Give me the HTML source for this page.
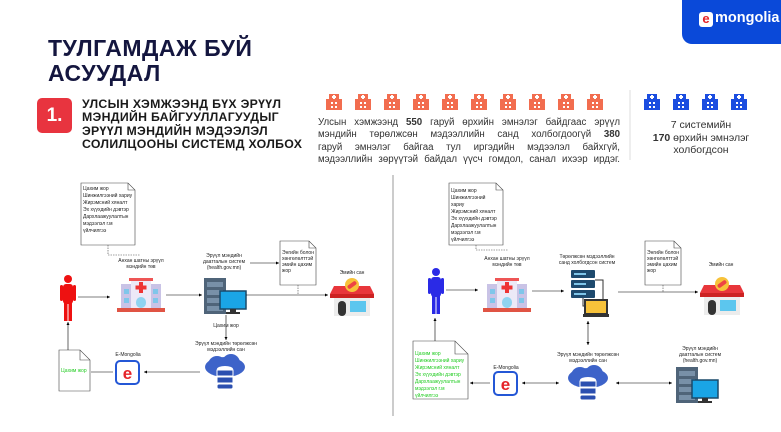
<!DOCTYPE html>
<html><head><meta charset="utf-8"><style>
*{margin:0;padding:0;box-sizing:border-box}
body{width:781px;height:432px;background:#fff;position:relative;overflow:hidden;font-family:"Liberation Sans",sans-serif}
.a{position:absolute}
.t{font-weight:bold;color:#14163f;font-size:23px;line-height:25px;letter-spacing:0.5px}
.h{font-weight:bold;color:#1a1a1a;font-size:12.3px;line-height:13.3px;letter-spacing:0.3px}
.p{font-size:9.7px;line-height:12.3px;color:#333}
.p div{text-align:justify;text-align-last:justify;white-space:nowrap}
svg text{font-family:"Liberation Sans",sans-serif;font-size:5px;fill:#222}
</style></head><body>
<div class="a" style="left:682px;top:0;width:99px;height:44px;background:#0a49d9;border-bottom-left-radius:10px"></div>
<div class="a" style="left:699px;top:12px;width:14px;height:15px;background:#fff;border-radius:3px;color:#e52329;font-weight:bold;font-size:13px;line-height:13px;text-align:center">e</div>
<div class="a" style="left:715px;top:10px;color:#fff;font-weight:bold;font-size:14.5px">mongolia</div>

<div class="a t" style="left:48px;top:36px">ТУЛГАМДАЖ БУЙ<br>АСУУДАЛ</div>
<div class="a" style="left:37px;top:98px;width:35px;height:35px;background:#e8343f;border-radius:5px;color:#fff;font-weight:bold;font-size:19px;line-height:35px;text-align:center">1.</div>
<div class="a h" style="left:82px;top:98px">УЛСЫН ХЭМЖЭЭНД БҮХ ЭРҮҮЛ<br>МЭНДИЙН БАЙГУУЛЛАГУУДЫГ<br>ЭРҮҮЛ МЭНДИЙН МЭДЭЭЛЭЛ<br>СОЛИЛЦООНЫ СИСТЕМД ХОЛБОХ</div>

<svg class="a" style="left:0;top:0" width="781" height="432">
<defs>
<g id="bld"><rect x="3" y="2" width="10" height="16"/><rect x="0" y="7" width="3" height="11"/><rect x="13" y="7" width="3" height="11"/><rect x="7" y="3" width="2" height="4" fill="#fff"/><rect x="6" y="4" width="4" height="2" fill="#fff"/><rect x="5" y="10" width="2" height="2" fill="#fff"/><rect x="9" y="10" width="2" height="2" fill="#fff"/><rect x="5" y="14" width="2" height="2" fill="#fff"/><rect x="9" y="14" width="2" height="2" fill="#fff"/></g>
<marker id="ar" markerWidth="6" markerHeight="6" refX="5" refY="3" orient="auto"><path d="M0,0.5 L5,3 L0,5.5z" fill="#000"/></marker>
<marker id="as" markerWidth="6" markerHeight="6" refX="1" refY="3" orient="auto"><path d="M6,0.5 L1,3 L6,5.5z" fill="#000"/></marker>
<g id="hosp"><rect x="4" y="6" width="40" height="24" fill="#c9c3e6"/><rect x="14" y="2" width="20" height="28" fill="#ece9f7"/><rect x="12" y="0" width="24" height="3" fill="#e55"/><rect x="22" y="4" width="4" height="11" fill="#e33"/><rect x="18.5" y="7.5" width="11" height="4" fill="#e33"/><rect x="19" y="19" width="10" height="11" rx="5" fill="#8fd3f0"/><rect x="7" y="11" width="5" height="5" fill="#7fc6ea"/><rect x="36" y="11" width="5" height="5" fill="#7fc6ea"/><rect x="7" y="20" width="5" height="5" fill="#7fc6ea"/><rect x="36" y="20" width="5" height="5" fill="#7fc6ea"/><rect x="0" y="30" width="48" height="4" fill="#e05444"/></g>
<g id="pharm"><rect x="4" y="14" width="36" height="22" fill="#ececec"/><path d="M0,14 L4,6 L40,6 L44,14z" fill="#e8363b"/><rect x="0" y="14" width="44" height="4" fill="#c22"/><rect x="8" y="21" width="8" height="15" rx="4" fill="#333"/><rect x="20" y="21" width="16" height="11" fill="#5cc6ee"/><circle cx="22" cy="5" r="7" fill="#f7c23a"/><rect x="17" y="3" width="10" height="4" rx="2" fill="#e44" transform="rotate(-35 22 5)"/></g>
<g id="srv"><rect x="0" y="0" width="22" height="36" fill="#4f6479"/><rect x="3" y="4" width="16" height="5" fill="#7890a8"/><rect x="3" y="12" width="16" height="5" fill="#7890a8"/><rect x="3" y="20" width="16" height="5" fill="#7890a8"/><rect x="3" y="28" width="16" height="5" fill="#7890a8"/><rect x="16" y="13" width="26" height="18" fill="#1aa5e6" stroke="#1a4a6a" stroke-width="1.5"/><rect x="26" y="31" width="6" height="3" fill="#333"/><rect x="22" y="34" width="14" height="2" fill="#333"/></g>
<g id="db"><ellipse cx="22" cy="12" rx="20" ry="10" fill="#3d63c9"/><circle cx="14" cy="10" r="9" fill="#3d63c9"/><circle cx="28" cy="8" r="9" fill="#3d63c9"/><ellipse cx="22" cy="14" rx="8" ry="3" fill="#fff"/><rect x="14" y="15" width="16" height="6" fill="#2b4fb0" stroke="#fff"/><rect x="14" y="22" width="16" height="6" fill="#2b4fb0" stroke="#fff"/><rect x="14" y="29" width="16" height="5" rx="2" fill="#2b4fb0" stroke="#fff"/></g>
<g id="elogo"><rect x="1" y="1" width="23" height="23" rx="4" fill="#fff" stroke="#2457d6" stroke-width="2"/><text x="12.5" y="19" text-anchor="middle" style="font-size:17px;font-weight:bold;fill:#e52329">e</text></g>
<g id="pers"><circle cx="8" cy="4" r="4"/><rect x="3" y="9" width="10" height="20" rx="3"/><rect x="0" y="10" width="3" height="16" rx="1.5"/><rect x="13" y="10" width="3" height="16" rx="1.5"/><rect x="4" y="27" width="3.5" height="19"/><rect x="8.5" y="27" width="3.5" height="19"/></g>
</defs>
<g fill="#f26d4f">
<use href="#bld" x="326" y="92"/><use href="#bld" x="355" y="92"/><use href="#bld" x="384" y="92"/><use href="#bld" x="413" y="92"/><use href="#bld" x="442" y="92"/><use href="#bld" x="471" y="92"/><use href="#bld" x="500" y="92"/><use href="#bld" x="529" y="92"/><use href="#bld" x="558" y="92"/><use href="#bld" x="587" y="92"/>
</g>
<g fill="#1b4de0"><use href="#bld" x="644" y="92"/><use href="#bld" x="673" y="92"/><use href="#bld" x="702" y="92"/><use href="#bld" x="731" y="92"/></g>
<line x1="630" y1="90" x2="630" y2="160" stroke="#ddd"/>
<line x1="393" y1="175" x2="393" y2="416" stroke="#999"/>

<!-- LEFT -->
<path d="M81,183 H128 L135,190 V245 H81z" fill="#fff" stroke="#444" stroke-width="0.6"/>
<path d="M128,183 V190 H135" fill="none" stroke="#444" stroke-width="0.6"/>
<text x="83" y="190">Цахим жор</text><text x="83" y="197">Шинжилгээний хариу</text><text x="83" y="204">Жирэмсний хяналт</text><text x="83" y="211">Эх хүүхдийн дэвтэр</text><text x="83" y="218">Дархлаажуулалтын</text><text x="83" y="225">мэдээлэл г.м</text><text x="83" y="232">үйлчилгээ</text>
<path d="M108,245 V255 H140" fill="none" stroke="#444" stroke-width="0.6" stroke-dasharray="1.5,1"/>
<use href="#pers" x="60" y="275" fill="#e11"/>
<line x1="78" y1="297" x2="110" y2="297" stroke="#000" stroke-width="0.6" marker-end="url(#ar)"/>
<text x="141" y="262" text-anchor="middle">Анхан шатны эрүүл</text><text x="141" y="268" text-anchor="middle">мэндийн төв</text>
<use href="#hosp" x="117" y="278"/>
<line x1="166" y1="295" x2="202" y2="295" stroke="#000" stroke-width="0.6" marker-end="url(#ar)"/>
<text x="224" y="257" text-anchor="middle">Эрүүл мэндийн</text><text x="224" y="263" text-anchor="middle">даатгалын систем</text><text x="224" y="269" text-anchor="middle">(health.gov.mn)</text>
<use href="#srv" x="204" y="278"/>
<line x1="250" y1="263" x2="279" y2="263" stroke="#000" stroke-width="0.6" marker-end="url(#ar)"/>
<path d="M280,241 H309 L316,248 V285 H280z" fill="#fff" stroke="#444" stroke-width="0.6"/>
<path d="M309,241 V248 H316" fill="none" stroke="#444" stroke-width="0.6"/>
<text x="282" y="254">Энгийн болон</text><text x="282" y="260">хөнгөлөлттэй</text><text x="282" y="266">эмийн цахим</text><text x="282" y="272">жор</text>
<line x1="298" y1="285" x2="298" y2="295" stroke="#444" stroke-width="0.6" stroke-dasharray="1.5,1"/>
<line x1="246" y1="295" x2="328" y2="295" stroke="#000" stroke-width="0.6" marker-end="url(#ar)"/>
<text x="352" y="274" text-anchor="middle">Эмийн сан</text>
<use href="#pharm" x="330" y="280"/>
<line x1="226" y1="315" x2="226" y2="340" stroke="#000" stroke-width="0.6" marker-end="url(#ar)"/>
<text x="226" y="327" text-anchor="middle">Цахим жор</text>
<text x="226" y="345" text-anchor="middle">Эрүүл мэндийн төрөлжсөн</text><text x="226" y="351" text-anchor="middle">мэдээллийн сан</text>
<use href="#db" x="203" y="355"/>
<line x1="200" y1="372" x2="144" y2="372" stroke="#000" stroke-width="0.6" marker-end="url(#ar)"/>
<text x="128" y="356" text-anchor="middle">E-Mongolia</text>
<use href="#elogo" x="115" y="360"/>
<line x1="91" y1="372" x2="113" y2="372" stroke="#000" stroke-width="0.6"/>
<path d="M59,350 H80 L90,360 V391 H59z" fill="#fff" stroke="#444" stroke-width="0.6"/>
<path d="M80,350 V360 H90" fill="none" stroke="#444" stroke-width="0.6"/>
<text x="61" y="372" style="fill:#2c2">Цахим жор</text>
<line x1="68" y1="350" x2="68" y2="322" stroke="#000" stroke-width="0.6" marker-end="url(#ar)"/>

<!-- RIGHT -->
<path d="M449,183 H496 L503,190 V245 H449z" fill="#fff" stroke="#444" stroke-width="0.6"/>
<path d="M496,183 V190 H503" fill="none" stroke="#444" stroke-width="0.6"/>
<text x="451" y="192">Цахим жор</text><text x="451" y="199">Шинжилгээний</text><text x="451" y="206">хариу</text><text x="451" y="213">Жирэмсний хяналт</text><text x="451" y="220">Эх хүүхдийн дэвтэр</text><text x="451" y="227">Дархлаажуулалтын</text><text x="451" y="234">мэдээлэл г.м</text><text x="451" y="241">үйлчилгээ</text>
<path d="M476,245 V250 H508" fill="none" stroke="#444" stroke-width="0.6" stroke-dasharray="1.5,1"/>
<use href="#pers" x="428" y="268" fill="#2a2ae6"/>
<line x1="446" y1="290" x2="478" y2="290" stroke="#000" stroke-width="0.6" marker-end="url(#ar)"/>
<text x="507" y="260" text-anchor="middle">Анхан шатны эрүүл</text><text x="507" y="266" text-anchor="middle">мэндийн төв</text>
<use href="#hosp" x="483" y="278"/>
<line x1="532" y1="291" x2="564" y2="291" stroke="#000" stroke-width="0.6" marker-end="url(#ar)"/>
<text x="587" y="258" text-anchor="middle">Төрөлжсөн мэдээллийн</text><text x="587" y="264" text-anchor="middle">санд холбогдсон систем</text>
<g transform="translate(571,270)"><rect x="0" y="0" width="24" height="8" rx="1" fill="#1e4a6e"/><rect x="0" y="10" width="24" height="8" rx="1" fill="#1e4a6e"/><rect x="0" y="20" width="24" height="8" rx="1" fill="#1e4a6e"/><rect x="3" y="3" width="12" height="2" fill="#7fc6ea"/><rect x="3" y="13" width="12" height="2" fill="#7fc6ea"/><rect x="3" y="23" width="12" height="2" fill="#7fc6ea"/><path d="M24,10 H32 V32 M12,28 V36 H14" fill="none" stroke="#333"/><rect x="14" y="30" width="22" height="14" fill="#f7c23a" stroke="#333" stroke-width="2"/><rect x="12" y="44" width="26" height="3" fill="#333"/></g>
<line x1="618" y1="292" x2="698" y2="292" stroke="#000" stroke-width="0.6" marker-end="url(#ar)"/>
<path d="M645,241 H674 L681,248 V285 H645z" fill="#fff" stroke="#444" stroke-width="0.6"/>
<path d="M674,241 V248 H681" fill="none" stroke="#444" stroke-width="0.6"/>
<text x="647" y="254">Энгийн болон</text><text x="647" y="260">хөнгөлөлттэй</text><text x="647" y="266">эмийн цахим</text><text x="647" y="272">жор</text>
<line x1="663" y1="285" x2="663" y2="292" stroke="#444" stroke-width="0.6" stroke-dasharray="1.5,1"/>
<text x="721" y="266" text-anchor="middle">Эмийн сан</text>
<use href="#pharm" x="700" y="279"/>
<line x1="588" y1="321" x2="588" y2="345" stroke="#000" stroke-width="0.6" marker-end="url(#ar)" marker-start="url(#as)"/>
<text x="588" y="356" text-anchor="middle">Эрүүл мэндийн төрөлжсөн</text><text x="588" y="362" text-anchor="middle">мэдээллийн сан</text>
<use href="#db" x="566" y="366"/>
<line x1="522" y1="383" x2="559" y2="383" stroke="#000" stroke-width="0.6" marker-end="url(#ar)" marker-start="url(#as)"/>
<line x1="616" y1="383" x2="672" y2="383" stroke="#000" stroke-width="0.6" marker-end="url(#ar)" marker-start="url(#as)"/>
<text x="506" y="369" text-anchor="middle">E-Mongolia</text>
<use href="#elogo" x="493" y="371"/>
<line x1="490" y1="383" x2="470" y2="383" stroke="#000" stroke-width="0.6" marker-end="url(#ar)"/>
<path d="M413,341 H455 L468,354 V399 H413z" fill="#fff" stroke="#444" stroke-width="0.6"/>
<path d="M455,341 V354 H468" fill="none" stroke="#444" stroke-width="0.6"/>
<g><text x="415" y="355" style="fill:#2c2">Цахим жор</text><text x="415" y="362" style="fill:#2c2">Шинжилгээний хариу</text><text x="415" y="369" style="fill:#2c2">Жирэмсний хяналт</text><text x="415" y="376" style="fill:#2c2">Эх хүүхдийн дэвтэр</text><text x="415" y="383" style="fill:#2c2">Дархлаажуулалтын</text><text x="415" y="390" style="fill:#2c2">мэдээлэл г.м</text><text x="415" y="397" style="fill:#2c2">үйлчилгээ</text></g>
<line x1="435" y1="341" x2="435" y2="318" stroke="#000" stroke-width="0.6" marker-end="url(#ar)"/>
<text x="700" y="350" text-anchor="middle">Эрүүл мэндийн</text><text x="700" y="356" text-anchor="middle">даатгалын систем</text><text x="700" y="362" text-anchor="middle">(health.gov.mn)</text>
<use href="#srv" x="676" y="367"/>
</svg>

<div class="a p" style="left:318px;top:117px;width:302px">
<div>Улсын хэмжээнд <b>550</b> гаруй өрхийн эмнэлэг байдгаас эрүүл</div>
<div>мэндийн төрөлжсөн мэдээллийн санд холбогдоогүй <b>380</b></div>
<div>гаруй эмнэлэг байгаа тул иргэдийн мэдээлэл байхгүй,</div>
<div>мэдээллийн зөрүүтэй байдал үүсч гомдол, санал ихээр ирдэг.</div>
</div>
<div class="a" style="left:636px;top:119px;width:130px;text-align:center;font-size:10.5px;line-height:12.5px;color:#333">7 системийн<br><b>170</b> өрхийн эмнэлэг<br>холбогдсон</div>
</body></html>
